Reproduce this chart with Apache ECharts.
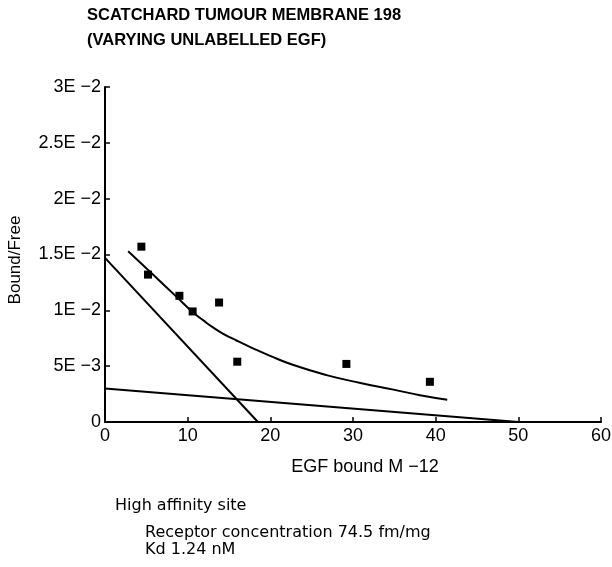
<!DOCTYPE html>
<html><head><meta charset="utf-8">
<script src="https://cdn.jsdelivr.net/npm/echarts@6/dist/echarts.min.js"></script>
<style>html,body{margin:0;padding:0;background:#fff}#c{width:612px;height:567px}</style>
</head><body><div id="c"></div>
<script>
const pointsX = [4.4, 5.2, 9.0, 10.6, 13.8, 16.0, 29.2, 39.3];
const pointsY = [0.0157, 0.0132, 0.0113, 0.0099, 0.0107, 0.0054, 0.0052, 0.0036];
const curveX = [2.8, 5.8, 8.6, 10.6, 11.9, 13.1, 14.3, 15.9, 17.9, 19.9, 22.8, 26.8, 30.9, 34.9, 38.1, 41.4];
const curveY = [0.0153, 0.0132, 0.01125, 0.00985, 0.0091, 0.00845, 0.0079, 0.0073, 0.0066, 0.00595, 0.0051, 0.0042, 0.0035, 0.0029, 0.0024, 0.0020];
const highX = [0, 18.5];
const highY = [0.0147, 0];
const lowX = [0, 50];
const lowY = [0.0030, 0];
const yTickLabels = ['0', '5E \u22123', '1E \u22122', '1.5E \u22122', '2E \u22122', '2.5E \u22122', '3E \u22122'];
const xTickLabels = ['0', '10', '20', '30', '40', '50', '60'];
const titleLines = ['SCATCHARD TUMOUR MEMBRANE 198', '(VARYING UNLABELLED EGF)'];
const xName = 'EGF bound M \u221212';
const yName = 'Bound/Free';
const notes = ['High affinity site', 'Receptor concentration 74.5 fm/mg', 'Kd 1.24 nM'];

const zip = (xs, ys) => xs.map((x, i) => [x, ys[i]]);
const font = 'Liberation Sans, Arial, Helvetica, sans-serif';
const chart = echarts.init(document.getElementById('c'), null, {renderer: 'canvas'});
const lineStyle = {color: '#000', width: 2};
chart.setOption({
  animation: false,
  backgroundColor: '#fff',
  title: {
    text: titleLines.join('\n'), left: 87, top: 3, padding: 0,
    textStyle: {fontFamily: font, fontSize: 16.5, fontWeight: 'bold', color: '#000', lineHeight: 25}
  },
  grid: {left: 105, right: 11, top: 87, bottom: 145, containLabel: false, outerBoundsMode: 'none'},
  xAxis: {
    type: 'value', min: 0, max: 60, interval: 10,
    name: xName, nameLocation: 'middle', nameGap: 36,
    nameTextStyle: {fontFamily: font, fontSize: 18, color: '#000', padding: [0, 0, 0, 24]},
    axisLine: {lineStyle: {color: '#000', width: 2}},
    axisTick: {inside: true, length: 5, lineStyle: {color: '#000', width: 1.5}},
    axisLabel: {fontFamily: font, fontSize: 18, color: '#000', margin: 5,
      formatter: v => xTickLabels[Math.round(v / 10)]},
    splitLine: {show: false}
  },
  yAxis: {
    type: 'value', min: 0, max: 0.03, interval: 0.005,
    axisLine: {lineStyle: {color: '#000', width: 2}},
    axisTick: {inside: true, length: 5, lineStyle: {color: '#000', width: 1.5}},
    axisLabel: {fontFamily: font, fontSize: 18, color: '#000', margin: 4,
      formatter: v => yTickLabels[Math.round(v / 0.005)]},
    splitLine: {show: false}
  },
  series: [
    {type: 'line', data: zip(curveX, curveY), smooth: 0.5, symbol: 'none', lineStyle},
    {type: 'line', data: zip(highX, highY), symbol: 'none', lineStyle},
    {type: 'line', data: zip(lowX, lowY), symbol: 'none', lineStyle},
    {type: 'scatter', data: zip(pointsX, pointsY), symbol: 'rect', symbolSize: 8,
      itemStyle: {color: '#000', opacity: 1}}
  ],
  graphic: [
    {type: 'text', x: 15, y: 260, rotation: Math.PI / 2,
      style: {text: yName, font: '17px ' + font, fill: '#000', textAlign: 'center', textVerticalAlign: 'middle'}},
    {type: 'text', left: 115, top: 498, style: {text: notes[0], font: '16px "DejaVu Sans"', fill: '#000'}},
    {type: 'text', left: 145, top: 525, style: {text: notes[1], font: '16px "DejaVu Sans"', fill: '#000'}},
    {type: 'text', left: 145, top: 542, style: {text: notes[2], font: '16px "DejaVu Sans"', fill: '#000'}}
  ]
});
</script></body></html>
